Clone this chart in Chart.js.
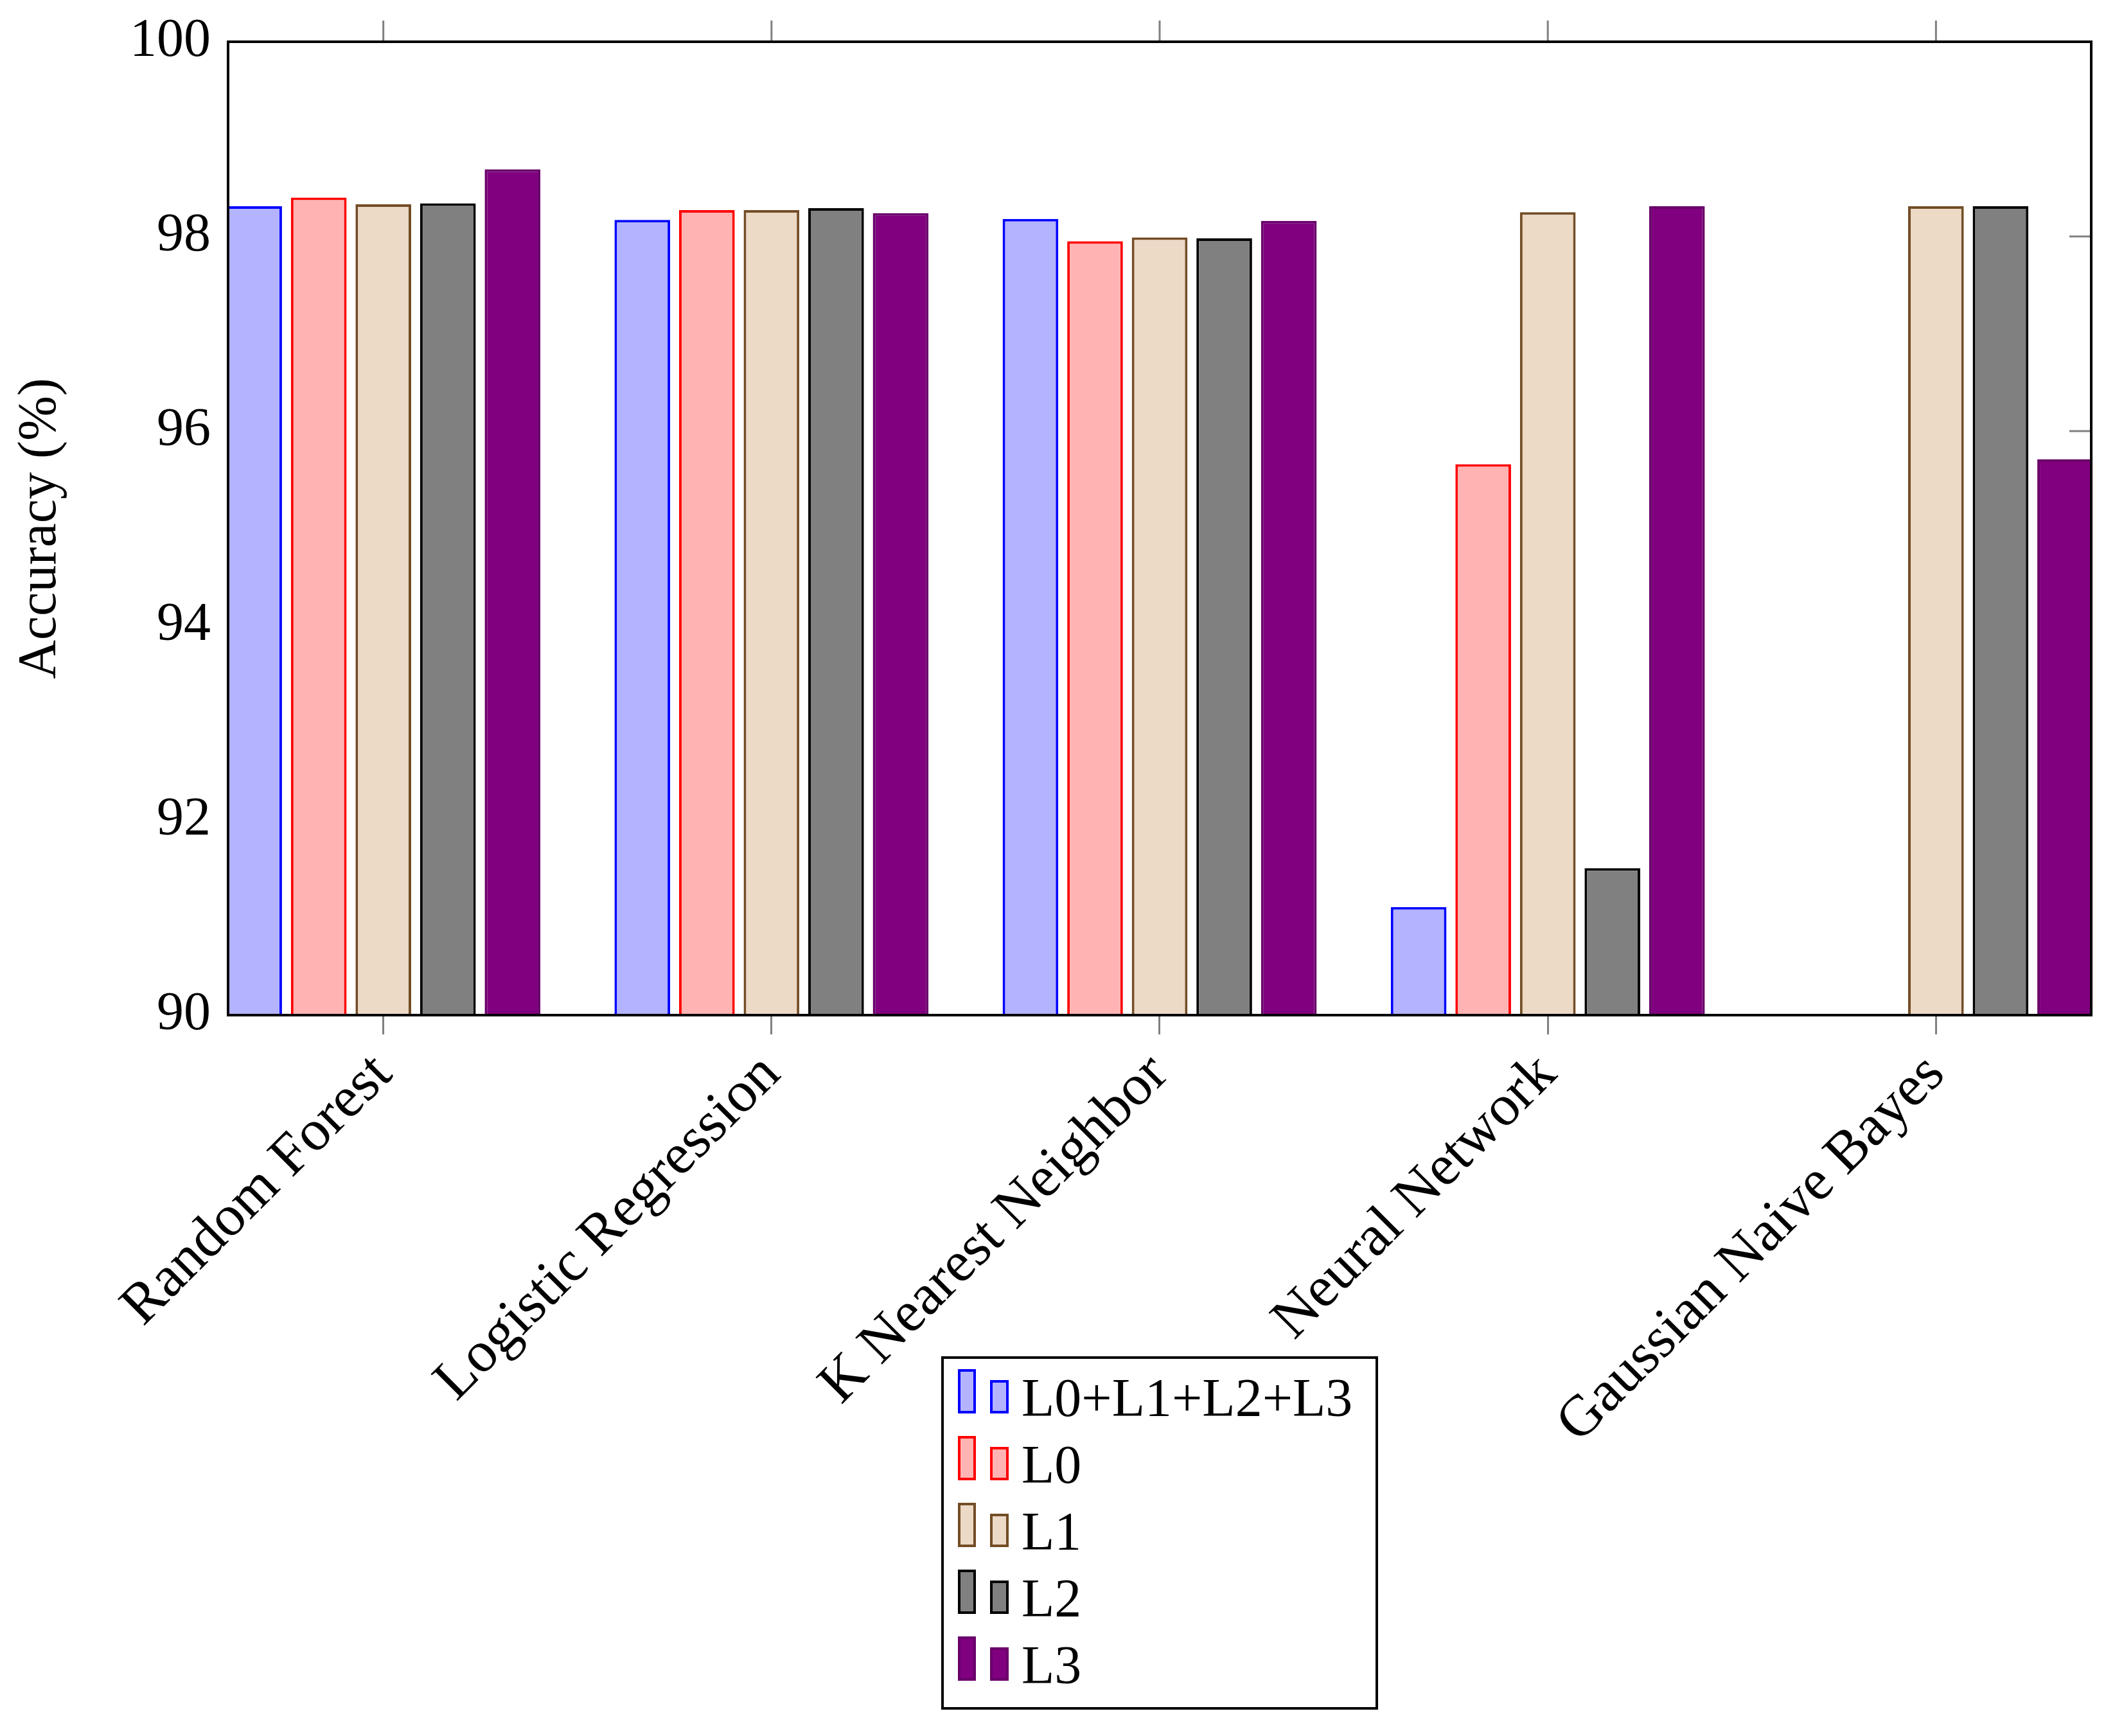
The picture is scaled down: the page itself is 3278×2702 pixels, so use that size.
<!DOCTYPE html>
<html>
<head>
<meta charset="utf-8">
<script src="https://cdn.jsdelivr.net/npm/chart.js@4"></script>
<style>
  html, body { margin: 0; padding: 0; background: #fff; }
  #wrap { position: relative; width: 3278px; height: 2702px; }
  #legend {
    position: absolute; left: 1465px; top: 2111px; width: 672px; height: 542px;
    border: 4px solid #000; background: #fff;
    font-family: "Liberation Serif", serif; font-size: 84px; color: #000;
  }
  .item { position: absolute; left: 0; width: 100%; height: 104px; }
  .sw { position: absolute; box-sizing: border-box; border: 4px solid; }
  .lbl { position: absolute; left: 121px; top: 3px; line-height: 84px; white-space: nowrap; }
</style>
</head>
<body>
<div id="wrap">
  <canvas id="accuracyChart" width="3278" height="2702"></canvas>
  <div id="legend"></div>
</div>
<script>
// 数据
const categories = ['Random Forest', 'Logistic Regression', 'K Nearest Neighbor', 'Neural Network', 'Gaussian Naive Bayes'];
const seriesNames = ['L0+L1+L2+L3', 'L0', 'L1', 'L2', 'L3'];
const allLevels = [98.31, 98.17, 98.18, 91.11, 90.0];
const level0 = [98.40, 98.27, 97.95, 95.66, 90.0];
const level1 = [98.33, 98.27, 97.99, 98.25, 98.31];
const level2 = [98.34, 98.29, 97.98, 91.51, 98.31];
const level3 = [98.69, 98.24, 98.16, 98.31, 95.71];
const yMin = 90;
const yMax = 100;
const yStep = 2;

// 颜色
const fills = ['#b3b3ff', '#ffb3b3', '#ecd9c6', '#808080', '#800080'];
const borders = ['#0000ff', '#ff0000', '#734d26', '#000000', '#6a006a'];

const series = [allLevels, level0, level1, level2, level3];
const serif = '"Liberation Serif", serif';

// 刻度和边框
const framePlugin = {
    id: 'frame',
    beforeDatasetsDraw(chart) {
        const { ctx, chartArea: a, scales: { y } } = chart;
        ctx.save();
        ctx.strokeStyle = '#808080';
        ctx.lineWidth = 3;
        ctx.beginPath();
        y.ticks.forEach(t => {
            const py = y.getPixelForValue(t.value);
            ctx.moveTo(a.left, py); ctx.lineTo(a.left + 34, py);
            ctx.moveTo(a.right - 34, py); ctx.lineTo(a.right, py);
        });
        ctx.stroke();
        ctx.restore();
    },
    afterDatasetsDraw(chart) {
        const { ctx, chartArea: a, scales: { x } } = chart;
        ctx.save();
        ctx.strokeStyle = '#808080';
        ctx.lineWidth = 3;
        ctx.beginPath();
        x.ticks.forEach(t => {
            const px = x.getPixelForValue(t.value);
            ctx.moveTo(px, a.top - 33); ctx.lineTo(px, a.top);
        });
        ctx.stroke();
        ctx.strokeStyle = '#000';
        ctx.lineWidth = 4;
        ctx.strokeRect(a.left, a.top, a.right - a.left, a.bottom - a.top);
        ctx.restore();
    }
};

function createAccuracyChart() {
    const ctx = document.getElementById('accuracyChart').getContext('2d');

    new Chart(ctx, {
        type: 'bar',
        data: {
            datasets: series.map((values, s) => ({
                label: seriesNames[s],
                data: values.map((v, i) => ({ x: i, y: v })),
                backgroundColor: fills[s],
                borderColor: borders[s],
                borderWidth: 4,
                borderSkipped: 'start',
                categoryPercentage: 0.832,
                barPercentage: 0.862
            }))
        },
        options: {
            responsive: false,
            animation: false,
            layout: { padding: { top: 65, right: 23, left: 0, bottom: 0 } },
            plugins: {
                legend: { display: false },
                tooltip: { enabled: false }
            },
            scales: {
                x: {
                    type: 'linear',
                    offset: false,
                    min: -0.4,
                    max: categories.length - 0.6,
                    afterBuildTicks: scale => {
                        scale.ticks = categories.map((c, i) => ({ value: i }));
                    },
                    afterFit: scale => { scale.height = 2702 - 1580; },
                    ticks: {
                        autoSkip: false,
                        maxRotation: 45,
                        minRotation: 45,
                        padding: 10,
                        color: '#000',
                        font: { family: serif, size: 90 },
                        callback: value => categories[value]
                    },
                    grid: {
                        offset: false,
                        drawOnChartArea: false,
                        drawTicks: true,
                        tickLength: 30,
                        tickWidth: 3,
                        tickColor: '#808080'
                    },
                    border: { display: true, color: '#000', width: 4 }
                },
                y: {
                    min: yMin,
                    max: yMax,
                    afterFit: scale => {
                        scale.width = 355;
                        scale.paddingTop = 0;
                        scale.paddingBottom = 0;
                    },
                    ticks: {
                        stepSize: yStep,
                        padding: 27,
                        color: '#000',
                        font: { family: serif, size: 84 }
                    },
                    grid: { drawOnChartArea: false, drawTicks: false },
                    border: { display: true, color: '#000', width: 4 },
                    title: {
                        display: true,
                        text: 'Accuracy (%)',
                        color: '#000',
                        padding: { top: 14, bottom: 0 },
                        font: { family: serif, size: 84 }
                    }
                }
            }
        },
        plugins: [framePlugin]
    });
}

// 图例
function createLegend() {
    const box = document.getElementById('legend');
    seriesNames.forEach((name, s) => {
        const item = document.createElement('div');
        item.className = 'item';
        item.style.top = (16 + s * 104) + 'px';
        item.innerHTML = `
            <div class="sw" style="left:22px;top:0;width:28px;height:69px;background:${fills[s]};border-color:${borders[s]}"></div>
            <div class="sw" style="left:72px;top:17px;width:29px;height:52px;background:${fills[s]};border-color:${borders[s]}"></div>
            <div class="lbl">${name}</div>
        `;
        box.appendChild(item);
    });
}

document.addEventListener('DOMContentLoaded', () => {
    createAccuracyChart();
    createLegend();
});
</script>
</body>
</html>
